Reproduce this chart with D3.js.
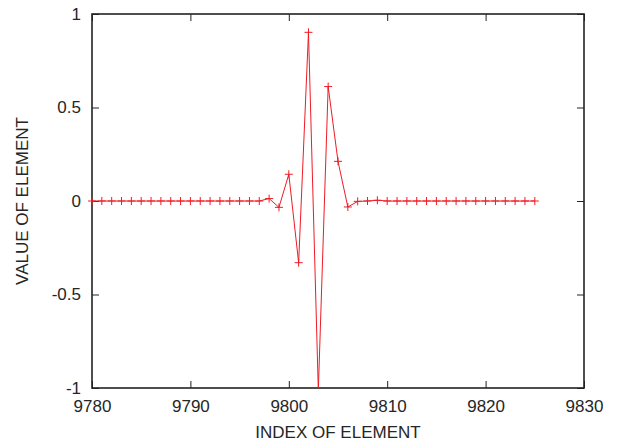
<!DOCTYPE html>
<html>
<head>
<meta charset="utf-8">
<script src="https://cdn.jsdelivr.net/npm/d3@7"></script>
<style>
  html, body { margin: 0; padding: 0; background: #fff; }
  svg { display: block; }
  text { font-family: "Liberation Sans", Arial, sans-serif; fill: #262626; }
</style>
</head>
<body>
<svg id="chart" width="619" height="448"></svg>
<script>
// Element index and value of each sampled element
const indices = d3.range(9780, 9826);
const values = [
  0, 0, 0, 0, 0, 0, 0, 0, 0, 0,
  0, 0, 0, 0, 0, 0, 0, 0, 0.013, -0.034,
  0.143, -0.33, 0.902, -1.015, 0.612, 0.212, -0.032, -0.002, 0, 0.004,
  0, 0, 0, 0, 0, 0, 0, 0, 0, 0,
  0, 0, 0, 0, 0, 0
];
const xTicks = [9780, 9790, 9800, 9810, 9820, 9830];
const yTicks = [-1, -0.5, 0, 0.5, 1];
const xLabel = "INDEX OF ELEMENT";
const yLabel = "VALUE OF ELEMENT";

const data = indices.map((idx, i) => ({ x: idx, y: values[i] }));

const plotL = 92, plotR = 584, plotT = 14, plotB = 388;
const svg = d3.select("#chart");

const x = d3.scaleLinear().domain([9780, 9830]).range([plotL, plotR]);
const y = d3.scaleLinear().domain([-1, 1]).range([plotB, plotT]);

const tickLen = 7;
const fontSize = "17px";
// plain hyphen for negative numbers
const yFmt = d => String(d);

// Clip region for the data
svg.append("defs").append("clipPath").attr("id", "plotClip")
  .append("rect").attr("x", plotL).attr("y", plotT)
  .attr("width", plotR - plotL).attr("height", plotB - plotT);

// Axes with inward ticks, mirrored on the opposite sides
const axisStyle = g => {
  g.select(".domain").remove();
  g.selectAll(".tick line").attr("stroke", "#222").attr("stroke-width", 1);
  g.selectAll(".tick text").style("font-size", fontSize).attr("fill", "#262626");
};

svg.append("g").attr("transform", `translate(0,${plotB})`)
  .call(d3.axisBottom(x).tickValues(xTicks).tickFormat(d3.format("d"))
    .tickSizeInner(-tickLen).tickSizeOuter(0).tickPadding(12))
  .call(axisStyle);

svg.append("g").attr("transform", `translate(0,${plotT})`)
  .call(d3.axisTop(x).tickValues(xTicks).tickFormat("")
    .tickSizeInner(-tickLen).tickSizeOuter(0))
  .call(axisStyle);

svg.append("g").attr("transform", `translate(${plotL},0)`)
  .call(d3.axisLeft(y).tickValues(yTicks).tickFormat(yFmt)
    .tickSizeInner(-tickLen).tickSizeOuter(0).tickPadding(11))
  .call(axisStyle);

svg.append("g").attr("transform", `translate(${plotR},0)`)
  .call(d3.axisRight(y).tickValues(yTicks).tickFormat("")
    .tickSizeInner(-tickLen).tickSizeOuter(0))
  .call(axisStyle);

// Plot border
svg.append("rect")
  .attr("x", plotL).attr("y", plotT)
  .attr("width", plotR - plotL).attr("height", plotB - plotT)
  .attr("fill", "none").attr("stroke", "#222").attr("stroke-width", 1.6);

// Data line and plus markers
const plot = svg.append("g").attr("clip-path", "url(#plotClip)");
plot.append("path")
  .datum(data)
  .attr("fill", "none")
  .attr("stroke", "#ee1c25")
  .attr("stroke-width", 1)
  .attr("d", d3.line().x(d => x(d.x)).y(d => y(d.y)));

const m = 4;
svg.append("g").selectAll("path.pt")
  .data(data.filter(d => d.y >= -1 && d.y <= 1))
  .join("path")
  .attr("class", "pt")
  .attr("fill", "none")
  .attr("stroke", "#ee1c25")
  .attr("stroke-width", 1)
  .attr("d", d => {
    const cx = x(d.x), cy = y(d.y);
    return `M${cx - m},${cy}H${cx + m}M${cx},${cy - m}V${cy + m}`;
  });

// Axis titles
svg.append("text")
  .attr("x", 338).attr("y", 438)
  .attr("text-anchor", "middle")
  .style("font-size", fontSize)
  .text(xLabel);

svg.append("text")
  .attr("transform", `translate(28,${(plotT + plotB) / 2}) rotate(-90)`)
  .attr("text-anchor", "middle")
  .style("font-size", fontSize)
  .text(yLabel);
</script>
</body>
</html>
